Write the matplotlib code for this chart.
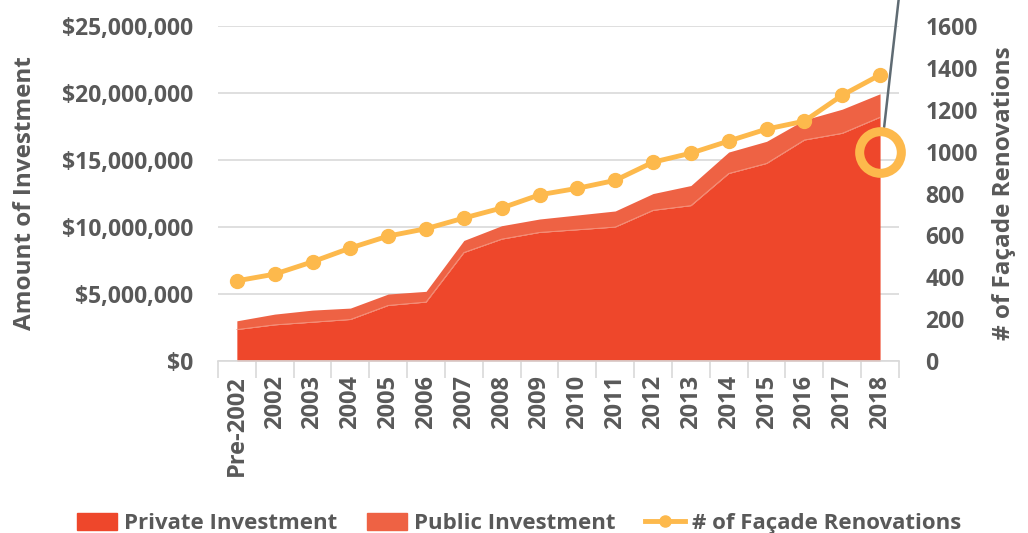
import numpy as np
import matplotlib
matplotlib.use("Agg")
import matplotlib.pyplot as plt
from matplotlib.patches import Patch
from matplotlib.lines import Line2D
from matplotlib.ticker import FuncFormatter

plt.rcParams['font.family'] = ['Open Sans', 'DejaVu Sans']
plt.rcParams['font.weight'] = 'bold'

years = ['Pre-2002', '2002', '2003', '2004', '2005', '2006', '2007', '2008', '2009',
         '2010', '2011', '2012', '2013', '2014', '2015', '2016', '2017', '2018']
private = [2.35, 2.7, 2.9, 3.1, 4.15, 4.4, 8.1, 9.1, 9.6, 9.8, 10.0, 11.25, 11.6,
           14.0, 14.75, 16.5, 17.0, 18.2]
total = [3.0, 3.5, 3.8, 3.95, 5.0, 5.2, 9.0, 10.1, 10.6, 10.9, 11.2, 12.5, 13.1,
         15.6, 16.4, 18.0, 18.8, 19.95]
renovations = [383, 415, 474, 540, 597, 632, 683, 731, 794, 825, 863, 950, 993,
               1051, 1108, 1146, 1270, 1367]
highlight = 1000

c_private = '#EE472B'
c_public = '#EE6244'
c_line = '#FDB94C'
c_text = '#595959'
c_grid = '#D9D9D9'

x = np.arange(len(years))
priv = np.array(private) * 1e6
tot = np.array(total) * 1e6

fig = plt.figure(figsize=(10.28, 5.33), dpi=100)
ax = fig.add_axes([0.212, 0.3227, 0.6625, 0.6283])

ax.fill_between(x, 0, priv, color=c_private, linewidth=0, zorder=2)
ax.fill_between(x, priv, tot, color=c_public, linewidth=0, zorder=2)
ax.plot(x, priv, color='#F5957F', linewidth=0.6, zorder=3)

ax.set_xlim(-0.5, len(years) - 0.5)
ax.set_ylim(0, 25e6)
ax.set_yticks(np.arange(0, 25e6 + 1, 5e6))
ax.yaxis.set_major_formatter(FuncFormatter(lambda v, p: '${:,.0f}'.format(v)))
ax.grid(axis='y', color=c_grid, linewidth=1.2, zorder=0)
ax.set_axisbelow(True)

ax.set_xticks(x)
ax.set_xticklabels(years, rotation=90, fontsize=17, color=c_text, fontweight='bold')
ax.set_xticks(np.arange(-0.5, len(years)), minor=True)
ax.tick_params(axis='x', which='major', length=0, pad=10)
ax.tick_params(axis='x', which='minor', length=12, color=c_grid, width=1.2)
ax.tick_params(axis='y', length=0, labelsize=16.5, labelcolor=c_text, pad=18)
for s in ['top', 'right', 'left']:
    ax.spines[s].set_visible(False)
ax.spines['bottom'].set_color(c_grid)
ax.spines['bottom'].set_linewidth(1.2)
ax.set_ylabel('Amount of Investment', fontsize=17.5, color=c_text, fontweight='bold', labelpad=18)

ax2 = ax.twinx()
ax2.plot(x, renovations, color=c_line, linewidth=3.5, marker='o', markersize=10, zorder=4)
ax2.set_ylim(0, 1600)
ax2.set_yticks(np.arange(0, 1601, 200))
ax2.tick_params(axis='y', length=0, labelsize=16.5, labelcolor=c_text, pad=19)
for s in ['top', 'right', 'left', 'bottom']:
    ax2.spines[s].set_visible(False)
ax2.set_ylabel('# of Façade Renovations', fontsize=17.5, color=c_text, fontweight='bold', labelpad=10)

# highlight ring with pointer line
ax2.plot([x[-1]], [highlight], marker='o', markersize=30, markerfacecolor='none',
         markeredgecolor=c_line, markeredgewidth=6.5, zorder=6, clip_on=False)
ax2.annotate('', xy=(x[-1] + 0.1, highlight + 105), xytext=(x[-1] + 0.6, 1900),
             arrowprops=dict(arrowstyle='-', color='#5F6B73', linewidth=1.8),
             annotation_clip=False, zorder=5)

handles = [Patch(color=c_private), Patch(color=c_public),
           Line2D([0], [0], color=c_line, linewidth=3.5, marker='o', markersize=8)]
labels = ['Private Investment', 'Public Investment', '# of Façade Renovations']
fig.legend(handles, labels, loc='lower center', ncol=3, frameon=False,
           bbox_to_anchor=(0.505, -0.04), labelcolor=c_text,
           handlelength=1.8, handleheight=0.75, handletextpad=0.3, columnspacing=1.35,
           prop={'weight': 'bold', 'size': 16})

fig.savefig('out.png', dpi=100)
